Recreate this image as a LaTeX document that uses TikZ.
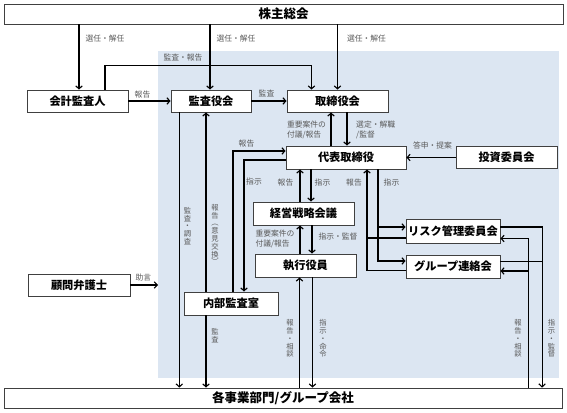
\documentclass[tikz,border=0pt]{standalone}
\usepackage{fontspec}
\setmainfont{Noto Sans CJK JP}
\usetikzlibrary{arrows.meta}
\definecolor{bluebg}{HTML}{DCE6F2}
\definecolor{labgray}{HTML}{5A5A5A}
\definecolor{boxline}{HTML}{404040}
\begin{document}
\begin{tikzpicture}[x=1pt,y=-1pt,
  box/.style={draw=boxline, line width=0.8pt, fill=white, inner sep=0pt, font=\bfseries\fontsize{11.2}{13}\selectfont},
  bigbox/.style={box, font=\bfseries\fontsize{12.5}{14}\selectfont},
  arr/.style={line width=1.1pt, -{Straight Barb[length=3pt,width=6.5pt]}},
  ln/.style={line width=1.1pt},
  lab/.style={text=labgray, font=\fontsize{7.8}{10}\selectfont, inner sep=0pt},
  vlab/.style={text=labgray, font=\fontsize{7.3}{7.8}\selectfont, inner sep=0pt, align=center},
]
\useasboundingbox (0,0) rectangle (567,412);
\fill[white] (0,0) rectangle (567,412);
\fill[bluebg] (158,51) rectangle (559,378);

% nodes
\node[bigbox, minimum width=559pt, minimum height=20pt] (shu) at (283.5,14) {株主総会};
\node[bigbox, minimum width=558pt, minimum height=20pt] (kakubu) at (283,398) {各事業部門/グループ会社};
\node[box, minimum width=101pt, minimum height=22pt] (kaikei) at (77.5,101) {会計監査人};
\node[box, minimum width=80pt, minimum height=22pt] (kansa) at (211,101) {監査役会};
\node[box, minimum width=101pt, minimum height=22pt] (tori) at (337.5,101) {取締役会};
\node[box, minimum width=120pt, minimum height=23pt] (daihyo) at (346,157.5) {代表取締役};
\node[box, minimum width=101pt, minimum height=22pt] (toshi) at (506.5,157.5) {投資委員会};
\node[box, minimum width=101pt, minimum height=23pt] (keiei) at (303.5,213.5) {経営戦略会議};
\node[box, minimum width=101pt, minimum height=23pt] (shikko) at (305.5,265.5) {執行役員};
\node[box, minimum width=94pt, minimum height=24pt] (risk) at (453,231) {リスク管理委員会};
\node[box, minimum width=94pt, minimum height=23pt] (group) at (453,266.5) {グループ連絡会};
\node[box, minimum width=102pt, minimum height=22pt] (komon) at (79,285) {顧問弁護士};
\node[box, minimum width=94pt, minimum height=23pt] (naibu) at (231,303.5) {内部監査室};

% coordinates
\coordinate (xA) at ([xshift=1.5pt]kaikei.north);
\coordinate (xB) at ([xshift=-1pt]kansa.north);
\coordinate (xC) at ([xshift=27.5pt]kaikei.north);
\coordinate (xD) at ([xshift=-26pt]tori.north);
\coordinate (jogen) at (158,285);

% 株主総会
\draw[arr] (xA |- shu.south) -- (xA);
\draw[arr] (xB |- shu.south) -- (xB);
\draw[arr] (tori.north |- shu.south) -- (tori.north);
\draw[arr] (xC) -- ++(0,-24.3) -| (xD);
\draw[arr] (kaikei.east) -- (kansa.west);
\draw[arr] (kansa.east) -- (tori.west);

% 取締役会 - 代表取締役
\coordinate (d1) at ([xshift=-15pt]daihyo.north);
\coordinate (d2) at ([xshift=1pt]daihyo.north);
\draw[arr] (d1) -- (d1 |- tori.south);
\draw[arr] (d2 |- tori.south) -- (d2);
\draw[arr] (toshi.west) -- (daihyo.east);

% 内部監査室 - 代表取締役
\draw[arr] ([xshift=2pt]naibu.north) |- ([yshift=6.5pt]daihyo.west);
\draw[arr] ([yshift=-2.5pt]daihyo.west) -| ([xshift=13pt]naibu.north);

% 経営戦略会議
\coordinate (k1) at ([xshift=-3.5pt]keiei.north);
\coordinate (k2) at ([xshift=7.5pt]keiei.north);
\draw[arr] (k1) -- (k1 |- daihyo.south);
\draw[arr] (k2 |- daihyo.south) -- (k2);
\coordinate (s1) at ([xshift=-5.5pt]shikko.north);
\coordinate (s2) at ([xshift=6.5pt]shikko.north);
\draw[arr] (s1) -- (s1 |- keiei.south);
\draw[arr] (s2 |- keiei.south) -- (s2);
\coordinate (b1) at ([xshift=-6pt]shikko.south);
\coordinate (b2) at ([xshift=7pt]shikko.south);
\draw[arr] (b1 |- kakubu.north) -- (b1);
\draw[arr] (b2) -- (b2 |- kakubu.north);

% リスク管理委員会 / グループ連絡会
\coordinate (riskIn) at ([yshift=4pt]risk.west);
\coordinate (riskOut) at ([yshift=-7pt]risk.west);
\coordinate (groupIn) at ([yshift=5.5pt]group.west);
\coordinate (groupOut) at ([yshift=-4pt]group.west);
\coordinate (riskEO) at ([yshift=4pt]risk.east);
\coordinate (riskEI) at ([yshift=-7.5pt]risk.east);
\coordinate (groupEO) at ([yshift=5pt]group.east);
\coordinate (groupEI) at ([yshift=-4.5pt]group.east);
\coordinate (tA) at ([xshift=32pt]daihyo.south);
\coordinate (tB) at ([xshift=21pt]daihyo.south);
\coordinate (tC) at ([xshift=41.7pt]risk.east);
\coordinate (tD) at ([xshift=28.5pt]risk.east);
\draw[arr] (tA) |- (groupIn);
\draw[arr] (tA |- riskIn) -- (riskIn);
\draw[arr] (groupOut) -| (tB);
\draw[ln] (riskOut) -- (tB |- riskOut);
\draw[arr] (riskEO) -| (tC |- kakubu.north);
\draw[ln] (groupEO) -- (tC |- groupEO);
\draw[arr] (tD |- kakubu.north) |- (riskEI);
\draw[arr] (tD |- groupEI) -- (groupEI);

% 監査役会 / 内部監査室
\coordinate (m1) at ([xshift=-31.7pt]kansa.south);
\draw[arr] (m1) -- (m1 |- kakubu.north);
\coordinate (n1) at ([xshift=-25pt]naibu.north);
\coordinate (n2) at ([xshift=-25pt]naibu.south);
\draw[arr] (n1) -- (n1 |- kansa.south);
\draw[arr] (n2) -- (n2 |- kakubu.north);
\draw[arr] (komon.east) -- (jogen);

% labels
\node[lab] (l1) at (105,39) {選任・解任};
\node[lab] (l2) at (236,39) {選任・解任};
\node[lab] (l3) at (366.5,39) {選任・解任};
\node[lab] (l4) at (183,58) {監査・報告};
\node[lab] (l5) at (142.5,95) {報告};
\node[lab] (l6) at (266.5,93) {監査};
\node[lab, align=left] (l7) at (306.5,130) {重要案件の\\付議/報告};
\node[lab, align=left, anchor=west] (l8) at (356,130) {選定・解職\\/監督};
\node[lab] (l9) at (432.5,145) {答申・提案};
\node[lab] (l10) at (246.5,144) {報告};
\node[lab] (l11) at (254,182) {指示};
\node[lab] (l12) at (285.5,183) {報告};
\node[lab] (l13) at (322.5,183) {指示};
\node[lab] (l14) at (354,183) {報告};
\node[lab] (l15) at (391.5,183) {指示};
\node[lab, align=left] (l16) at (275,239) {重要案件の\\付議/報告};
\node[lab] (l17) at (338,237) {指示・監督};
\node[lab] (l18) at (143.3,278) {助言};
\node[vlab] (v1) at (187.5,226) {監\\査\\・\\調\\査};
\node[vlab] (v2) at (215,234.5) {報\\告\\︵\\意\\見\\交\\換\\︶};
\node[vlab] (v3) at (215,335.5) {監\\査};
\node[vlab] (v4) at (290,338.5) {報\\告\\・\\相\\談};
\node[vlab] (v5) at (323,338.5) {指\\示\\・\\命\\令};
\node[vlab] (v6) at (518,338.5) {報\\告\\・\\相\\談};
\node[vlab] (v7) at (551.5,338.5) {指\\示\\・\\監\\督};
\end{tikzpicture}
\end{document}
